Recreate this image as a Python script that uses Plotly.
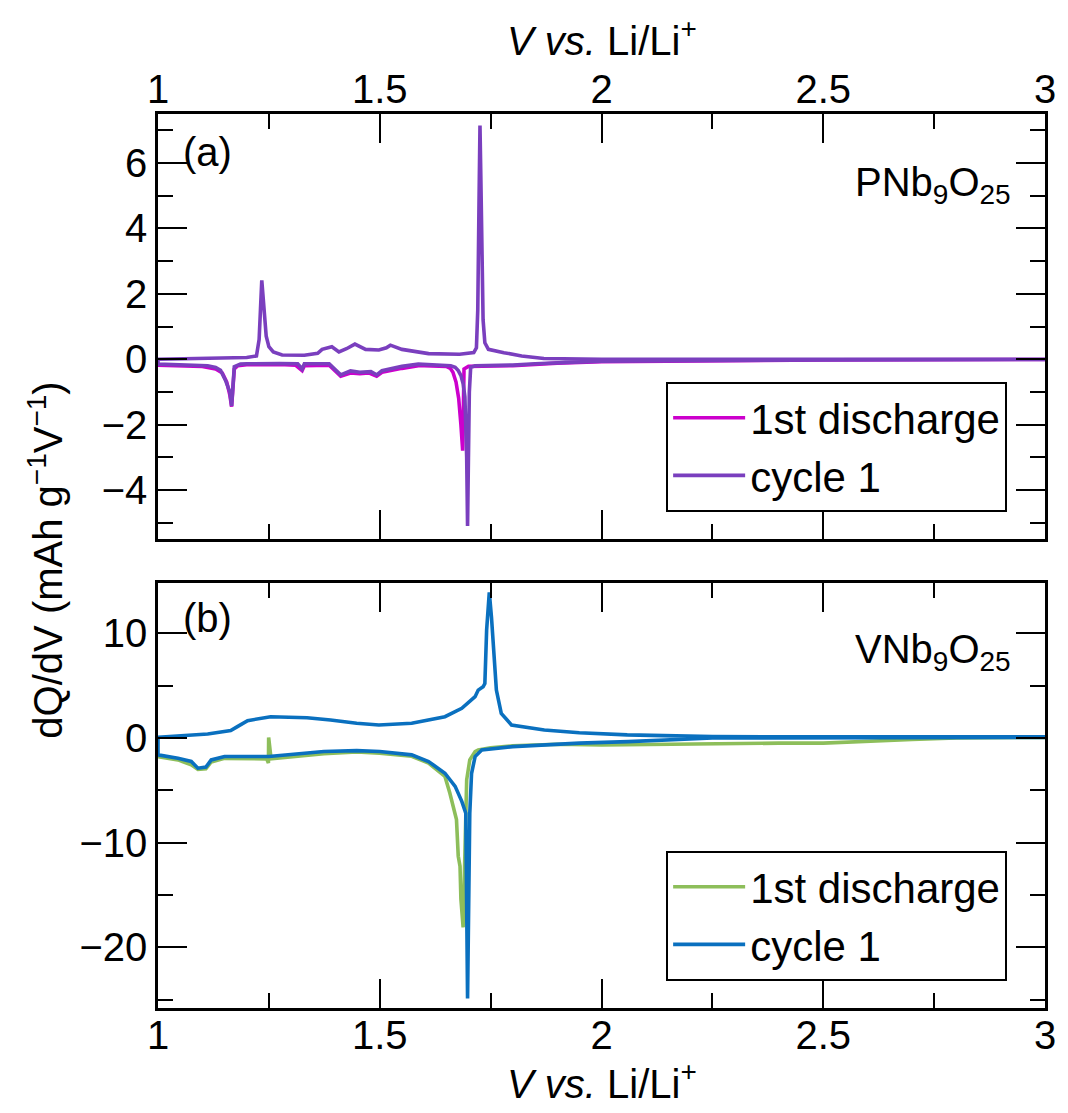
import plotly.graph_objects as go
from plotly.subplots import make_subplots

# ---------------- Panel (a): PNb9O25 ----------------
# 1st discharge (magenta), swept from 3 V down to 1 V
a_dis_v = [3.0, 2.5, 2.0, 1.9, 1.8, 1.75, 1.72, 1.70, 1.69, 1.687, 1.683, 1.678, 1.672,
           1.665, 1.659, 1.65, 1.6, 1.587, 1.55, 1.52, 1.505, 1.493, 1.475, 1.455, 1.434,
           1.412, 1.386, 1.33, 1.325, 1.31, 1.274, 1.2, 1.18, 1.172, 1.169, 1.166, 1.162,
           1.155, 1.145, 1.13, 1.1, 1.05, 1.0]
a_dis_q = [-0.01, -0.02, -0.08, -0.12, -0.2, -0.22, -0.22, -0.22, -0.3, -2.8, -2.0, -1.2, -0.7,
           -0.4, -0.28, -0.22, -0.2, -0.2, -0.28, -0.35, -0.4, -0.52, -0.42, -0.44, -0.42,
           -0.52, -0.18, -0.2, -0.35, -0.18, -0.16, -0.17, -0.2, -0.3, -0.9, -1.45, -1.1,
           -0.7, -0.42, -0.3, -0.22, -0.19, -0.18]

# cycle 1 (purple): discharge 3 V -> 1 V, then charge 1 V -> 3 V
a_cyc_v = [3.0, 2.5, 2.0, 1.9, 1.85, 1.8, 1.75, 1.715, 1.705, 1.702, 1.700, 1.698, 1.696,
           1.694, 1.692, 1.688, 1.683, 1.677, 1.67, 1.66, 1.6, 1.587, 1.55, 1.52, 1.505,
           1.493, 1.48, 1.455, 1.434, 1.412, 1.386, 1.33, 1.325, 1.315, 1.274, 1.2, 1.186,
           1.172, 1.169, 1.166, 1.162, 1.152, 1.141, 1.13, 1.112, 1.05, 1.0,
           1.0, 1.1, 1.2, 1.222, 1.228, 1.231, 1.234, 1.237, 1.240, 1.244, 1.25, 1.26,
           1.28, 1.33, 1.36, 1.37, 1.392, 1.408, 1.425, 1.444, 1.468, 1.498, 1.515, 1.524,
           1.55, 1.61, 1.68, 1.712, 1.718, 1.721, 1.724, 1.726, 1.728, 1.730, 1.733, 1.737,
           1.745, 1.78, 1.82, 1.87, 1.95, 2.0, 2.5, 3.0]
a_cyc_q = [-0.01, -0.02, -0.06, -0.1, -0.14, -0.18, -0.2, -0.2, -0.25, -1.0, -3.0, -5.1, -3.0,
           -1.8, -1.15, -0.75, -0.5, -0.35, -0.25, -0.2, -0.17, -0.15, -0.22, -0.3, -0.35,
           -0.48, -0.38, -0.4, -0.36, -0.48, -0.14, -0.14, -0.3, -0.14, -0.13, -0.14, -0.15,
           -0.23, -0.8, -1.43, -1.0, -0.64, -0.34, -0.25, -0.2, -0.16, -0.15,
           0.0, 0.02, 0.05, 0.1, 0.6, 1.5, 2.41, 1.9, 1.2, 0.7, 0.38, 0.22,
           0.13, 0.12, 0.18, 0.3, 0.38, 0.22, 0.32, 0.46, 0.3, 0.28, 0.35, 0.43,
           0.3, 0.17, 0.15, 0.2, 0.35, 1.5, 5.0, 7.15, 5.5, 3.0, 1.2, 0.5,
           0.3, 0.2, 0.1, 0.02, 0.0, 0.0, 0.0, 0.0]

# ---------------- Panel (b): VNb9O25 ----------------
b_dis_v = [3.0, 2.8, 2.7, 2.6, 2.5, 2.4, 2.3, 2.2, 2.1, 2.0, 1.9, 1.8, 1.75, 1.722, 1.715,
           1.703, 1.696, 1.694, 1.690, 1.688, 1.683, 1.681, 1.677, 1.673, 1.658, 1.647,
           1.61, 1.572, 1.5, 1.448, 1.374, 1.30, 1.255, 1.2495, 1.249, 1.245, 1.2, 1.15,
           1.12, 1.108, 1.09, 1.075, 1.045, 1.0]
b_dis_q = [0.05, 0.0, -0.15, -0.35, -0.5, -0.5, -0.55, -0.65, -0.7, -0.67, -0.6, -0.75, -0.95,
           -1.14, -1.3, -2.1, -4.0, -7.1, -15.0, -18.1, -15.4, -12.25, -11.3, -7.8, -5.27,
           -3.68, -2.4, -1.75, -1.46, -1.35, -1.5, -1.8, -2.0, 0.05, -2.4, -2.0, -1.95,
           -1.95, -2.3, -2.95, -3.0, -2.57, -2.1, -1.8]

b_cyc_v = [3.0, 2.5, 2.25, 2.06, 1.95, 1.8, 1.73, 1.715, 1.707, 1.703, 1.698, 1.694, 1.685,
           1.67, 1.647, 1.61, 1.572, 1.5, 1.448, 1.374, 1.25, 1.15, 1.12, 1.108, 1.09,
           1.075, 1.045, 1.0,
           1.0, 1.112, 1.164, 1.179, 1.202, 1.254, 1.336, 1.389, 1.448, 1.498, 1.56, 1.572,
           1.647, 1.685, 1.715, 1.722, 1.733, 1.737, 1.741, 1.747, 1.752, 1.756, 1.763,
           1.774, 1.797, 1.871, 1.95, 2.058, 2.25, 2.5, 3.0]
b_cyc_q = [0.05, 0.05, 0.0, -0.35, -0.5, -0.83, -1.14, -1.78, -3.4, -7.2, -24.9, -7.2, -6.06,
           -4.63, -3.37, -2.25, -1.62, -1.3, -1.21, -1.3, -1.78, -1.78, -2.1, -2.79, -2.89,
           -2.25, -1.94, -1.62,
           0.07, 0.38, 0.7, 1.08, 1.65, 2.03, 1.93, 1.71, 1.4, 1.24, 1.33, 1.4,
           2.03, 2.83, 3.94, 4.57, 4.89, 5.2, 10.3, 13.9, 11.5, 8.7, 4.57,
           2.35, 1.24, 0.76, 0.5, 0.29, 0.12, 0.1, 0.1]

x_ticks = [1, 1.5, 2, 2.5, 3]
x_tick_text = ["1", "1.5", "2", "2.5", "3"]
a_y_ticks = [-4, -2, 0, 2, 4, 6]
b_y_ticks = [-20, -10, 0, 10]

names = ["1st discharge", "cycle 1"]
a_colors = ["#CC00CC", "#7A3FBE"]
b_colors = ["#8DBE5A", "#0A70BF"]

FONT = "Liberation Sans, Arial, Helvetica, sans-serif"
FS = 40
LFS = 42
LW = 3.6

fig = make_subplots(rows=2, cols=1, vertical_spacing=0.0)

fig.add_trace(go.Scatter(x=a_dis_v, y=a_dis_q, mode="lines", name=names[0],
                         line=dict(color=a_colors[0], width=LW), legend="legend",
                         legendgroup="a1"), row=1, col=1)
fig.add_trace(go.Scatter(x=a_cyc_v, y=a_cyc_q, mode="lines", name=names[1],
                         line=dict(color=a_colors[1], width=LW), legend="legend",
                         legendgroup="a2"), row=1, col=1)
fig.add_trace(go.Scatter(x=b_dis_v, y=b_dis_q, mode="lines", name=names[0],
                         line=dict(color=b_colors[0], width=LW), legend="legend2",
                         legendgroup="b1"), row=2, col=1)
fig.add_trace(go.Scatter(x=b_cyc_v, y=b_cyc_q, mode="lines", name=names[1],
                         line=dict(color=b_colors[1], width=LW), legend="legend2",
                         legendgroup="b2"), row=2, col=1)

W, H = 1068, 1113
L, R, T, B = 158, 18, 114, 105
ph = H - T - B
pw = W - L - R
top_dom = [(1008 - 539) / ph, 1.0]
bot_dom = [0.0, (1008 - 583) / ph]

common_x = dict(range=[1, 3], tickvals=x_ticks, ticktext=x_tick_text, ticks="inside",
                ticklen=29, tickwidth=2, tickcolor="black", showline=True, linewidth=2.5,
                linecolor="black", mirror="ticks", showgrid=False, zeroline=False,
                tickfont=dict(family=FONT, size=FS, color="black"),
                minor=dict(dtick=0.25, tick0=1, ticks="inside", ticklen=15, tickwidth=2,
                           tickcolor="black", showgrid=False))
common_y = dict(ticks="inside", ticklen=29, tickwidth=2, tickcolor="black", showline=True,
                linewidth=2.5, linecolor="black", mirror="ticks", showgrid=False,
                zeroline=False, tickfont=dict(family=FONT, size=FS, color="black"),
                ticklabelstandoff=0)

leg_common = dict(xanchor="left", yanchor="top", bgcolor="white", bordercolor="black",
                  borderwidth=2, font=dict(family=FONT, size=LFS, color="black"),
                  tracegroupgap=0, itemwidth=72)

fig.update_layout(
    width=W, height=H, margin=dict(l=L, r=R, t=T, b=B),
    plot_bgcolor="white", paper_bgcolor="white",
    font=dict(family=FONT, size=FS, color="black"),
    xaxis=dict(common_x, side="top", domain=[0, 1], anchor="y",
               showticklabels=True, ticklabelstandoff=-8),
    xaxis2=dict(common_x, side="bottom", domain=[0, 1], anchor="y2",
                ticklabelstandoff=-10),
    yaxis=dict(common_y, domain=top_dom, range=[-5.5, 7.5], tickvals=a_y_ticks,
               ticktext=["\u22124", "\u22122", "0", "2", "4", "6"],
               minor=dict(dtick=1, tick0=0, ticks="inside", ticklen=15, tickwidth=2,
                          tickcolor="black", showgrid=False)),
    yaxis2=dict(common_y, domain=bot_dom, range=[-25.8, 14.8], tickvals=b_y_ticks,
                ticktext=["\u221220", "\u221210", "0", "10"],
                minor=dict(dtick=5, tick0=0, ticks="inside", ticklen=15, tickwidth=2,
                           tickcolor="black", showgrid=False)),
    legend=dict(leg_common, x=(669 - L) / pw, y=(1008 - 382) / ph),
    legend2=dict(leg_common, x=(669 - L) / pw, y=(1008 - 851) / ph),
    showlegend=True,
)

ann = []
ann.append(dict(text="<i>V vs.</i> Li/Li<sup>+</sup>", xref="paper", yref="paper",
                x=(604 - L) / pw, y=(1008 - 38) / ph, xanchor="center", yanchor="middle",
                showarrow=False, font=dict(family=FONT, size=FS)))
ann.append(dict(text="<i>V vs.</i> Li/Li<sup>+</sup>", xref="paper", yref="paper",
                x=(604 - L) / pw, y=(1008 - 1081) / ph, xanchor="center", yanchor="middle",
                showarrow=False, font=dict(family=FONT, size=FS)))
ann.append(dict(text="dQ/dV (mAh g<sup>\u22121</sup>V<sup>\u22121</sup>)", xref="paper",
                yref="paper", x=(45 - L) / pw, y=(1008 - 560) / ph, xanchor="center",
                yanchor="middle", textangle=-90, showarrow=False,
                font=dict(family=FONT, size=FS)))
ann.append(dict(text="(a)", xref="x domain", yref="y domain", x=(181 - L) / pw,
                y=(539 - 152) / 425, xanchor="left", yanchor="middle", showarrow=False,
                font=dict(family=FONT, size=FS)))
ann.append(dict(text="PNb<sub>9</sub>O<sub>25</sub>", xref="x domain", yref="y domain",
                x=(1018 - L) / pw, y=(539 - 185) / 425, xanchor="right", yanchor="middle",
                showarrow=False, font=dict(family=FONT, size=FS)))
ann.append(dict(text="(b)", xref="x2 domain", yref="y2 domain", x=(181 - L) / pw,
                y=(1008 - 618) / 425, xanchor="left", yanchor="middle", showarrow=False,
                font=dict(family=FONT, size=FS)))
ann.append(dict(text="VNb<sub>9</sub>O<sub>25</sub>", xref="x2 domain", yref="y2 domain",
                x=(1018 - L) / pw, y=(1008 - 652) / 425, xanchor="right", yanchor="middle",
                showarrow=False, font=dict(family=FONT, size=FS)))
fig.update_layout(annotations=ann)

fig.write_html("out.html")
